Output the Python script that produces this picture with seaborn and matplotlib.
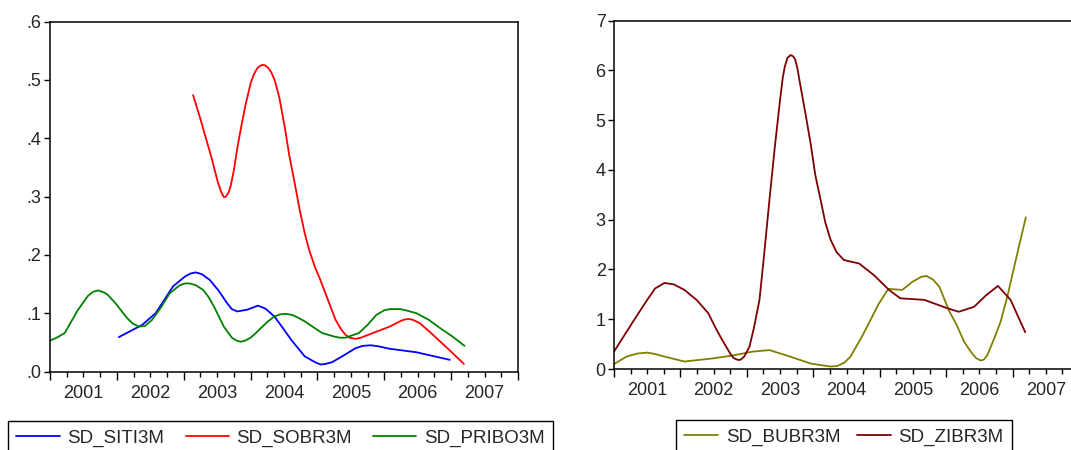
import numpy as np
import pandas as pd
import matplotlib
matplotlib.use("Agg")
import matplotlib.pyplot as plt
import seaborn as sns

sns.set_style("ticks")
plt.rcParams['font.family'] = ['Liberation Sans', 'DejaVu Sans']

# ---- left panel: SITI / SOBR / PRIBO ----
siti_t = [2002.03, 2002.38, 2002.58, 2002.84, 2003.02, 2003.10, 2003.18, 2003.27, 2003.39,
          2003.52, 2003.65, 2003.72, 2003.80, 2003.95, 2004.11, 2004.22, 2004.36, 2004.48,
          2004.61, 2004.81, 2004.98, 2005.05, 2005.12, 2005.22, 2005.37, 2005.57, 2005.68,
          2005.80, 2005.92, 2006.08, 2006.48, 2006.98]
siti_v = [0.059, 0.080, 0.100, 0.146, 0.163, 0.168, 0.170, 0.167, 0.157,
          0.139, 0.117, 0.107, 0.103, 0.106, 0.113, 0.108, 0.094, 0.075,
          0.054, 0.026, 0.015, 0.012, 0.013, 0.016, 0.026, 0.040, 0.044,
          0.045, 0.043, 0.039, 0.033, 0.020]

sobr_t = [2003.14, 2003.24, 2003.34, 2003.42, 2003.50, 2003.53, 2003.56, 2003.60, 2003.63,
          2003.67, 2003.70, 2003.75, 2003.80, 2003.85, 2003.92, 2004.00, 2004.05, 2004.10,
          2004.14, 2004.18, 2004.22, 2004.27, 2004.31, 2004.36, 2004.43, 2004.51, 2004.58,
          2004.66, 2004.73, 2004.81, 2004.88, 2004.96, 2005.04, 2005.12, 2005.20, 2005.27,
          2005.35, 2005.42, 2005.48, 2005.57, 2005.65, 2005.83, 2006.08, 2006.25, 2006.30,
          2006.36, 2006.42, 2006.53, 2006.68, 2006.84, 2007.00, 2007.19]
sobr_v = [0.474, 0.437, 0.397, 0.365, 0.329, 0.318, 0.308, 0.299, 0.300,
          0.307, 0.317, 0.345, 0.382, 0.414, 0.455, 0.494, 0.510, 0.520,
          0.524, 0.526, 0.525, 0.520, 0.513, 0.500, 0.470, 0.420, 0.370,
          0.323, 0.280, 0.237, 0.207, 0.180, 0.158, 0.134, 0.110, 0.089,
          0.073, 0.063, 0.058, 0.056, 0.058, 0.066, 0.077, 0.087, 0.089,
          0.090, 0.089, 0.083, 0.068, 0.051, 0.034, 0.013]

pribo_t = [2001.00, 2001.10, 2001.22, 2001.42, 2001.57, 2001.65, 2001.72, 2001.80, 2001.86,
           2001.98, 2002.15, 2002.24, 2002.33, 2002.42, 2002.53, 2002.66, 2002.79, 2002.94,
           2003.02, 2003.09, 2003.18, 2003.29, 2003.37, 2003.45, 2003.60, 2003.72, 2003.79,
           2003.85, 2003.92, 2004.00, 2004.07, 2004.15, 2004.25, 2004.35, 2004.44, 2004.53,
           2004.62, 2004.70, 2004.81, 2005.07, 2005.25, 2005.33, 2005.42, 2005.62, 2005.75,
           2005.88, 2006.00, 2006.08, 2006.15, 2006.24, 2006.32, 2006.48, 2006.66, 2006.84,
           2007.02, 2007.20]
pribo_v = [0.053, 0.058, 0.066, 0.106, 0.130, 0.137, 0.139, 0.136, 0.132,
           0.117, 0.092, 0.082, 0.077, 0.078, 0.089, 0.110, 0.134, 0.148,
           0.151, 0.151, 0.148, 0.140, 0.128, 0.112, 0.077, 0.058, 0.053,
           0.051, 0.053, 0.058, 0.065, 0.074, 0.085, 0.094, 0.098, 0.099,
           0.097, 0.093, 0.086, 0.066, 0.060, 0.058, 0.058, 0.066, 0.080,
           0.097, 0.105, 0.107, 0.107, 0.107, 0.105, 0.100, 0.089, 0.074,
           0.060, 0.044]

# ---- right panel: BUBR / ZIBR ----
bubr_t = [2001.00, 2001.19, 2001.35, 2001.50, 2001.62, 2001.76, 2002.06, 2002.47, 2002.78,
          2003.09, 2003.34, 2003.65, 2003.96, 2004.15, 2004.26, 2004.36, 2004.47, 2004.56,
          2004.72, 2004.86, 2004.98, 2005.13, 2005.34, 2005.49, 2005.62, 2005.70, 2005.80,
          2005.90, 2006.04, 2006.16, 2006.27, 2006.38, 2006.45, 2006.52, 2006.57, 2006.62,
          2006.72, 2006.82, 2006.92, 2007.05, 2007.20]
bubr_v = [0.10, 0.25, 0.31, 0.33, 0.30, 0.25, 0.15, 0.21, 0.27,
          0.35, 0.38, 0.25, 0.11, 0.07, 0.05, 0.06, 0.13, 0.25,
          0.62, 0.98, 1.30, 1.61, 1.59, 1.75, 1.85, 1.87, 1.80,
          1.65, 1.18, 0.88, 0.55, 0.33, 0.22, 0.17, 0.19, 0.28,
          0.60, 0.95, 1.45, 2.20, 3.05]

zibr_t = [2001.00, 2001.30, 2001.50, 2001.62, 2001.76, 2001.90, 2002.06, 2002.25, 2002.42,
          2002.52, 2002.63, 2002.75, 2002.80, 2002.87, 2002.91, 2002.96, 2003.04, 2003.11,
          2003.19, 2003.26, 2003.34, 2003.42, 2003.50, 2003.54, 2003.57, 2003.61, 2003.66,
          2003.70, 2003.73, 2003.76, 2003.80, 2003.88, 2003.96, 2004.03, 2004.11, 2004.18,
          2004.26, 2004.35, 2004.46, 2004.69, 2004.91, 2005.14, 2005.31, 2005.67, 2006.02,
          2006.19, 2006.42, 2006.60, 2006.78, 2006.97, 2007.19]
zibr_v = [0.35, 0.98, 1.39, 1.62, 1.73, 1.70, 1.59, 1.38, 1.12,
          0.85, 0.58, 0.31, 0.22, 0.18, 0.19, 0.25, 0.45, 0.85,
          1.39, 2.30, 3.40, 4.45, 5.41, 5.85, 6.07, 6.25, 6.31,
          6.28, 6.21, 6.05, 5.74, 5.15, 4.53, 3.90, 3.40, 2.95,
          2.60, 2.35, 2.19, 2.12, 1.89, 1.59, 1.42, 1.39, 1.22,
          1.15, 1.25, 1.48, 1.67, 1.39, 0.74]

years = list(range(2001, 2009))

W, H = 1071, 450
fig = plt.figure(figsize=(W / 100, H / 100), dpi=100)
ax1 = fig.add_axes([50 / W, 1 - 371.5 / H, 468 / W, 349.8 / H])
ax2 = fig.add_axes([614 / W, 1 - 369 / H, 465 / W, 348.3 / H])


def style_axis(ax):
    ax.set_xlim(2001, 2008)
    ax.set_xticks(years)
    ax.set_xticklabels([])
    quarters = [y + q for y in range(2001, 2008) for q in (0.25, 0.5, 0.75)]
    qlabels = [str(int(q)) if abs(q % 1 - 0.5) < 1e-6 else '' for q in quarters]
    ax.set_xticks(quarters, minor=True)
    ax.set_xticklabels(qlabels, minor=True)
    ax.tick_params(axis='x', which='major', direction='out', length=6, width=1, color='black')
    ax.tick_params(axis='x', which='minor', direction='out', length=3.5, width=1, color='black',
                   labelsize=13, pad=6)
    ax.tick_params(axis='y', direction='out', length=4, width=1, color='black', labelsize=13, pad=2)
    for s in ax.spines.values():
        s.set_visible(True)
        s.set_color('black')
        s.set_linewidth(1.1)
    ax.set_xlabel('')
    ax.set_ylabel('')


lw = 1.3
sns.lineplot(x=siti_t, y=siti_v, ax=ax1, color='#0000FF', linewidth=lw, label='SD_SITI3M', legend=False)
sns.lineplot(x=sobr_t, y=sobr_v, ax=ax1, color='#FF0000', linewidth=lw, label='SD_SOBR3M', legend=False)
sns.lineplot(x=pribo_t, y=pribo_v, ax=ax1, color='#008000', linewidth=lw, label='SD_PRIBO3M', legend=False)
style_axis(ax1)
ax1.set_ylim(0, 0.6)
yt1 = [0, 0.1, 0.2, 0.3, 0.4, 0.5, 0.6]
ax1.set_yticks(yt1)
ax1.set_yticklabels(['.' + str(int(round(v * 10))) for v in yt1])

sns.lineplot(x=bubr_t, y=bubr_v, ax=ax2, color='#808000', linewidth=lw, label='SD_BUBR3M', legend=False)
sns.lineplot(x=zibr_t, y=zibr_v, ax=ax2, color='#800000', linewidth=lw, label='SD_ZIBR3M', legend=False)
style_axis(ax2)
ax2.set_ylim(0, 7)
ax2.set_yticks(range(0, 8))

leg_kw = dict(loc='upper left', ncol=3, frameon=True, fancybox=False, shadow=False,
              framealpha=1, edgecolor='black', fontsize=13.5, borderpad=0.45,
              handletextpad=0.4, borderaxespad=0)
h1, l1 = ax1.get_legend_handles_labels()
leg1 = fig.legend(h1, l1, bbox_to_anchor=(8 / W, 1 - 421 / H), handlelength=2.3,
                  columnspacing=1.15, **leg_kw)
leg1.get_frame().set_linewidth(1.0)
h2, l2 = ax2.get_legend_handles_labels()
leg2 = fig.legend(h2, l2, bbox_to_anchor=(676 / W, 1 - 420 / H), handlelength=1.8,
                  columnspacing=0.9, **leg_kw)
leg2.get_frame().set_linewidth(1.0)

fig.savefig("out.png", dpi=100)
